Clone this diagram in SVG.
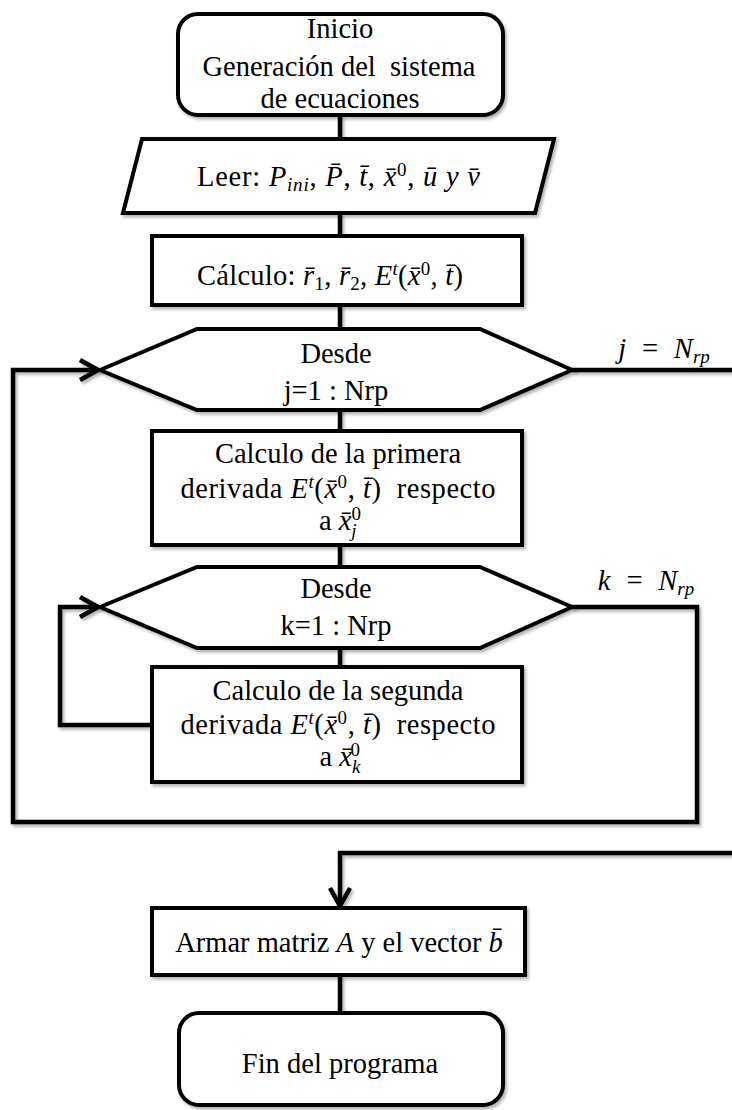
<svg xmlns="http://www.w3.org/2000/svg" width="732" height="1110" viewBox="0 0 732 1110">
<defs>
<style>
.box{fill:#fff;stroke:#000;stroke-width:4;stroke-linejoin:miter;filter:url(#sh)}
.ln{fill:none;stroke:#000;stroke-width:4.5;stroke-linejoin:miter;filter:url(#sh)}
text{font-family:"Liberation Serif","Times New Roman",serif;font-size:28.5px;fill:#000;text-anchor:middle;white-space:pre}
.m{font-style:italic}
.s{font-size:19px}
</style>
<filter id="sh" filterUnits="userSpaceOnUse" x="0" y="0" width="732" height="1110">
<feDropShadow dx="2" dy="2.5" stdDeviation="1.5" flood-color="#000" flood-opacity="0.3"/>
</filter>
<marker id="arr" viewBox="0 0 24 24" refX="21" refY="12" markerWidth="24" markerHeight="24" orient="auto" markerUnits="userSpaceOnUse">
<path d="M3,2 L21,12 L3,22" fill="none" stroke="#000" stroke-width="4.5"/>
</marker>
</defs>
<rect width="732" height="1110" fill="#fff"/>
<g id="connectors">
<line class="ln" x1="340" y1="115" x2="340" y2="139"/>
<line class="ln" x1="340" y1="213" x2="340" y2="236"/>
<line class="ln" x1="340" y1="305" x2="340" y2="329"/>
<line class="ln" x1="340" y1="410" x2="340" y2="431"/>
<line class="ln" x1="340" y1="545" x2="340" y2="567"/>
<line class="ln" x1="340" y1="648" x2="340" y2="667"/>
<line class="ln" x1="340" y1="975" x2="340" y2="1013"/>
<polyline class="ln" points="572,370 734,370"/>
<polyline class="ln" points="152,725 60,725 60,607 98,607" marker-end="url(#arr)"/>
<polyline class="ln" points="572,607 697,607 697,822 13,822 13,370 98,370" marker-end="url(#arr)"/>
<polyline class="ln" points="734,853 340,853 340,906" marker-end="url(#arr)"/>
<text x="664" y="358" class="m">j  =  N<tspan class="s" dy="5">rp</tspan></text>
<text x="646" y="590" class="m">k  =  N<tspan class="s" dy="5">rp</tspan></text>
</g>
<g id="start">
<rect class="box" x="178" y="14" width="325" height="101" rx="20"/>
<text x="340" y="38">Inicio</text>
<text x="339" y="76">Generación del  sistema</text>
<text x="340" y="108">de ecuaciones</text>
</g>
<g id="leer">
<polygon class="box" points="142,139 554,139 535,213 123,213"/>
<text x="338.5" y="186" textLength="283" lengthAdjust="spacing">Leer: <tspan class="m">P</tspan><tspan class="m s" dy="5">ini</tspan><tspan dy="-5">, </tspan><tspan class="m">P̄</tspan><tspan>, </tspan><tspan class="m">t̄</tspan><tspan>, </tspan><tspan class="m">x̄</tspan><tspan class="s" dy="-10">0</tspan><tspan dy="10">, </tspan><tspan class="m">ū</tspan> <tspan class="m">y</tspan> <tspan class="m">v̄</tspan></text>
</g>
<g id="calculo">
<rect class="box" x="152" y="236" width="370" height="69"/>
<text x="330" y="285" textLength="266" lengthAdjust="spacing">Cálculo: <tspan class="m">r̄</tspan><tspan class="s" dy="5">1</tspan><tspan dy="-5">, </tspan><tspan class="m">r̄</tspan><tspan class="s" dy="5">2</tspan><tspan dy="-5">, </tspan><tspan class="m">E</tspan><tspan class="m s" dy="-10">t</tspan><tspan dy="10">(</tspan><tspan class="m">x̄</tspan><tspan class="s" dy="-10">0</tspan><tspan dy="10">, </tspan><tspan class="m">t̄</tspan>)</text>
</g>
<g id="desde-j">
<polygon class="box" points="100,370 197,329 480,329 572,370 480,410 197,410"/>
<text x="336" y="363">Desde</text>
<text x="336" y="400">j=1 : Nrp</text>
</g>
<g id="primera">
<rect class="box" x="152" y="431" width="370" height="114"/>
<text x="338" y="463">Calculo de la primera</text>
<text x="338" y="498" textLength="315" lengthAdjust="spacing">derivada <tspan class="m">E</tspan><tspan class="m s" dy="-10">t</tspan><tspan dy="10">(</tspan><tspan class="m">x̄</tspan><tspan class="s" dy="-10">0</tspan><tspan dy="10">, </tspan><tspan class="m">t̄</tspan>)  respecto</text>
<text x="340" y="530">a <tspan class="m">x̄</tspan><tspan class="m s" dy="7">j</tspan><tspan class="s" dx="-5" dy="-17">0</tspan></text>
</g>
<g id="desde-k">
<polygon class="box" points="100,607 197,567 480,567 572,607 480,648 197,648"/>
<text x="336" y="598">Desde</text>
<text x="336" y="635">k=1 : Nrp</text>
</g>
<g id="segunda">
<rect class="box" x="152" y="667" width="370" height="115"/>
<text x="338" y="700">Calculo de la segunda</text>
<text x="338" y="734" textLength="315" lengthAdjust="spacing">derivada <tspan class="m">E</tspan><tspan class="m s" dy="-10">t</tspan><tspan dy="10">(</tspan><tspan class="m">x̄</tspan><tspan class="s" dy="-10">0</tspan><tspan dy="10">, </tspan><tspan class="m">t̄</tspan>)  respecto</text>
<text x="340" y="766">a <tspan class="m">x̄</tspan><tspan class="m s" dy="7">k</tspan><tspan class="s" dx="-10" dy="-17">0</tspan></text>
</g>
<g id="armar">
<rect class="box" x="152" y="908" width="373" height="67"/>
<text x="339" y="952">Armar matriz <tspan class="m">A</tspan> y el vector <tspan class="m">b̄</tspan></text>
</g>
<g id="fin">
<rect class="box" x="179" y="1013" width="324" height="92" rx="20"/>
<text x="340" y="1073">Fin del programa</text>
</g>
</svg>
